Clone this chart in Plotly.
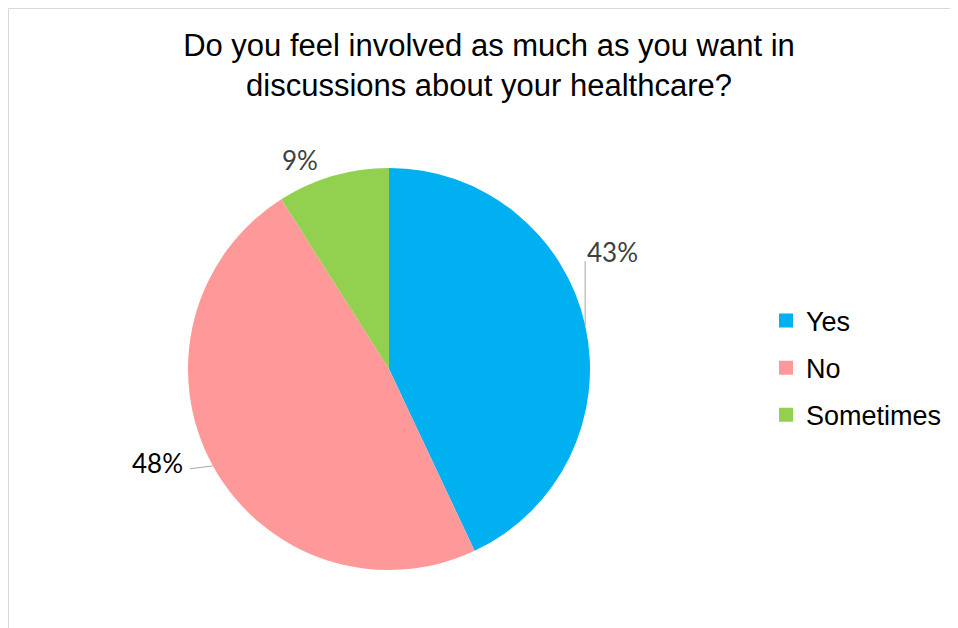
import math
import plotly.graph_objects as go

# ---- data ----
categories = ["Yes", "No", "Sometimes"]
values = [43, 48, 9]
colors = ["#00B0F0", "#FF9999", "#92D050"]
title_text = "Do you feel involved as much as you want in<br>discussions about your healthcare?"

# page body has an 8px margin; figure fills the rest of the 958x628 window
OFF = 8
W, H = 958 - OFF, 628 - OFF
# pie geometry (window pixels)
CX, CY, R = 389, 369, 201

def px(x):
    return (x - OFF) / W

def py(y):
    return 1 - (y - OFF) / H

fig = go.Figure()
fig.add_trace(go.Pie(
    labels=categories, values=values, sort=False, direction="clockwise", rotation=0,
    marker=dict(colors=colors, line=dict(color="white", width=0)),
    textinfo="none", hoverinfo="label+percent", showlegend=False,
    domain=dict(x=[px(CX - R), px(CX + R)], y=[py(CY + R), py(CY - R)]),
))

# legend entries (separate groups so vertical spacing can be set)
for c, col in zip(categories, colors):
    fig.add_trace(go.Scatter(
        x=[None], y=[None], mode="markers", name=c, legendgroup=c,
        marker=dict(symbol="square", size=14, color=col),
        showlegend=True, hoverinfo="skip",
    ))

# data labels computed from slice mid-angles
label_style = {
    "Yes": dict(text_off=(27, -73), line_off=(0, -64), color="#404040"),
    "No": dict(text_off=(-55, -3), line_off=(-23, 3), color="#000000"),
    "Sometimes": dict(text_off=(-33, -16), line_off=None, color="#404040"),
}
total = sum(values)
cum = 0.0
shapes = []
annotations = []
for c, v in zip(categories, values):
    mid = (cum + v / 2) / total * 2 * math.pi
    cum += v
    ax = CX + R * math.sin(mid)
    ay = CY - R * math.cos(mid)
    st = label_style[c]
    tx, ty = ax + st["text_off"][0], ay + st["text_off"][1]
    annotations.append(dict(
        x=px(tx), y=py(ty), xref="paper", yref="paper", showarrow=False,
        text=f"{round(v / total * 100)}%", xanchor="center", yanchor="middle",
        font=dict(family="Lato, Liberation Sans, Arial", size=26, color=st["color"]),
    ))
    if st["line_off"] is not None:
        lx, ly = ax + st["line_off"][0], ay + st["line_off"][1]
        shapes.append(dict(type="line", xref="paper", yref="paper",
                           x0=px(ax), y0=py(ay), x1=px(lx), y1=py(ly),
                           line=dict(color="#A6A6A6", width=1)))

# chart border: only left and top edges fall inside the window
border = dict(color="#D9D9D9", width=1)
shapes.append(dict(type="line", xref="paper", yref="paper",
                   x0=px(8.5), y0=0, x1=px(8.5), y1=py(8.5), line=border, layer="below"))
shapes.append(dict(type="line", xref="paper", yref="paper",
                   x0=px(8.5), y0=py(8.5), x1=1, y1=py(8.5), line=border, layer="below"))

fig.update_layout(
    width=W, height=H,
    margin=dict(l=0, r=0, t=0, b=0),
    paper_bgcolor="white", plot_bgcolor="white",
    xaxis=dict(visible=False), yaxis=dict(visible=False),
    title=dict(text=title_text, x=px(489), xanchor="center", y=py(56), yanchor="top",
               font=dict(family="Liberation Sans, Arial", size=31, color="#000000")),
    legend=dict(x=px(766), y=py(368), xanchor="left", yanchor="middle",
                font=dict(family="Liberation Sans, Arial", size=27, color="#000000"),
                tracegroupgap=9, bgcolor="rgba(0,0,0,0)"),
    shapes=shapes, annotations=annotations,
)

fig.write_html("out.html")
